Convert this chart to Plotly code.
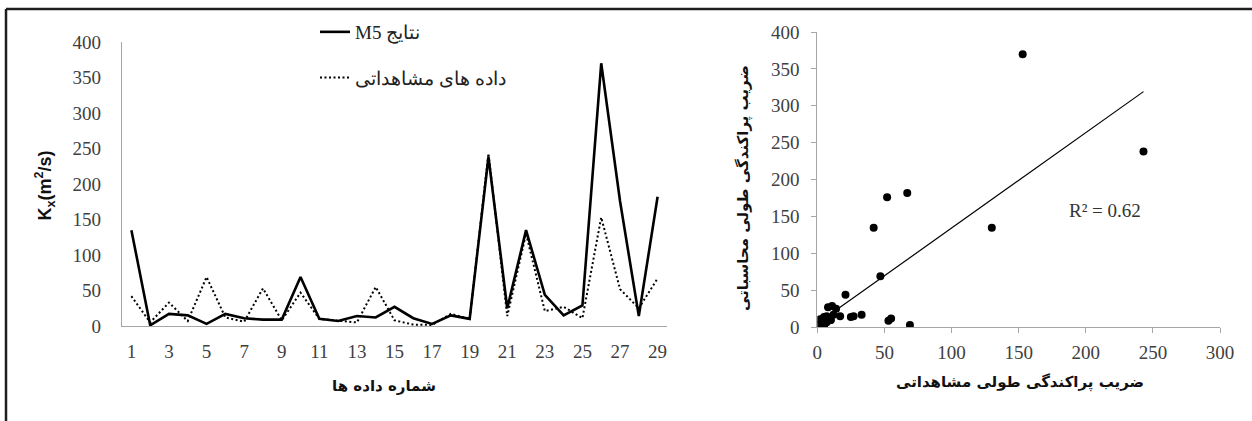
import numpy as np
import plotly.graph_objects as go

# Sample index along the horizontal axis of the left panel
sample_no = list(range(1, 30))

# Longitudinal dispersion coefficient Kx (m2/s)
observed = [42, 5, 33, 7, 69, 12, 6, 53, 8, 47, 10, 7, 5, 55, 8, 2, 1.5, 17, 10,
            243, 14, 130, 21, 27, 11, 153, 52, 25, 67]
computed = [135, 1, 17, 15, 3, 17, 11, 9, 9, 69, 10, 7, 14, 12, 27, 11, 3, 15, 10,
            238, 25, 135, 44, 15, 29, 370, 176, 14, 182]

left_ticks = list(range(1, 30, 2))
r2_text = "R² = 0.62"
left_xtitle = "شماره داده ها"
right_xtitle = "ضریب پراکندگی طولی مشاهداتی"
right_ytitle = "ضریب پراکندگی طولی محاسباتی"

# Least-squares linear trend of computed vs observed
slope, intercept = np.polyfit(observed, computed, 1)
trend_x = [min(observed), max(observed)]
trend_y = [slope * v + intercept for v in trend_x]

W, H = 1252, 421
SERIF = "Liberation Serif, Times New Roman, serif"
PERSIAN = "DejaVu Sans, sans-serif"
TICK_COLOR = "#404040"
AXIS_COLOR = "#a6a6a6"


def px_x(v):
    return v / W


def px_y(v):
    return 1 - v / H


fig = go.Figure()

fig.add_trace(go.Scatter(
    x=sample_no, y=observed, mode="lines", name="داده های مشاهداتی",
    line=dict(color="black", width=2, dash="2px,2.5px"),
    xaxis="x", yaxis="y", legendrank=2, legendgroup="obs",
))
fig.add_trace(go.Scatter(
    x=sample_no, y=computed, mode="lines", name="M5 نتایج",
    line=dict(color="black", width=2.6),
    xaxis="x", yaxis="y", legendrank=1, legendgroup="m5",
))

fig.add_trace(go.Scatter(
    x=trend_x, y=trend_y, mode="lines", showlegend=False,
    line=dict(color="black", width=1.2), xaxis="x2", yaxis="y2",
))
fig.add_trace(go.Scatter(
    x=observed, y=computed, mode="markers", showlegend=False,
    marker=dict(color="black", size=8), xaxis="x2", yaxis="y2",
))

# Horizontal axis titles, placed on a hidden full-figure pixel grid
title_font = dict(family=PERSIAN, size=15, color="#111", weight="bold")
fig.add_trace(go.Scatter(
    x=[384, 1020], y=[387, 383], mode="text",
    text=[left_xtitle, right_xtitle], textposition="middle center",
    textfont=title_font, showlegend=False, hoverinfo="skip",
    xaxis="x3", yaxis="y3",
))

axis_common = dict(showgrid=False, zeroline=False, showline=True,
                   linecolor=AXIS_COLOR, linewidth=1.2, automargin=False)

fig.update_layout(
    width=W, height=H, autosize=False,
    margin=dict(l=0, r=0, t=0, b=0, pad=0, autoexpand=False),
    paper_bgcolor="white", plot_bgcolor="rgba(0,0,0,0)",
    font=dict(family=SERIF, size=19, color=TICK_COLOR),
    showlegend=True,
    legend=dict(
        x=px_x(315), y=px_y(13), xanchor="left", yanchor="top",
        bgcolor="rgba(0,0,0,0)", tracegroupgap=18,
        font=dict(family=SERIF, size=19, color="#222"),
        itemwidth=30,
    ),
    xaxis=dict(
        domain=[px_x(122), px_x(667)], range=[0.5, 29.5],
        tickvals=left_ticks, ticks="", ticklabelstandoff=8,
        anchor="y", **axis_common,
    ),
    yaxis=dict(
        domain=[1 - 326 / H, 1 - 42 / H], range=[0, 400], dtick=50,
        ticks="", ticklabelstandoff=16,
        anchor="x", **axis_common,
    ),
    xaxis2=dict(
        domain=[px_x(817.3), px_x(1220)], range=[0, 300], dtick=50,
        ticks="outside", ticklen=5, tickcolor=AXIS_COLOR, ticklabelstandoff=3,
        anchor="y2", **axis_common,
    ),
    yaxis2=dict(
        domain=[1 - 327.3 / H, 1 - 32 / H], range=[0, 400], dtick=50,
        ticks="outside", ticklen=5, tickcolor=AXIS_COLOR, ticklabelstandoff=8,
        anchor="x2", **axis_common,
    ),
    xaxis3=dict(domain=[0, 1], range=[0, W], visible=False, fixedrange=True,
                anchor="y3", automargin=False),
    yaxis3=dict(domain=[0, 1], range=[H, 0], visible=False, fixedrange=True,
                anchor="x3", automargin=False),
)

# Outer frame (top and left edges)
frame = dict(type="line", xref="paper", yref="paper",
             line=dict(color="#1e1e1e", width=2.5))
fig.add_shape(**frame, x0=px_x(6), x1=1, y0=px_y(9), y1=px_y(9))
fig.add_shape(**frame, x0=px_x(6), x1=px_x(6), y0=0, y1=px_y(9))

fig.add_annotation(
    text="<b>K<sub>x</sub>(m<sup>2</sup>/s)</b>", xref="paper", yref="paper",
    x=px_x(31), y=px_y(186), showarrow=False, textangle=-90,
    font=dict(family="Liberation Sans, Arial, sans-serif", size=18, color="#111"),
)
fig.add_annotation(
    text=right_ytitle, xref="paper", yref="paper",
    x=px_x(744), y=px_y(188), showarrow=False, textangle=-90, font=title_font,
)
fig.add_annotation(
    text=r2_text, xref="paper", yref="paper",
    x=px_x(1143), y=px_y(210), showarrow=False,
    font=dict(family=SERIF, size=19, color="#333"),
)

fig.write_html("out.html")
